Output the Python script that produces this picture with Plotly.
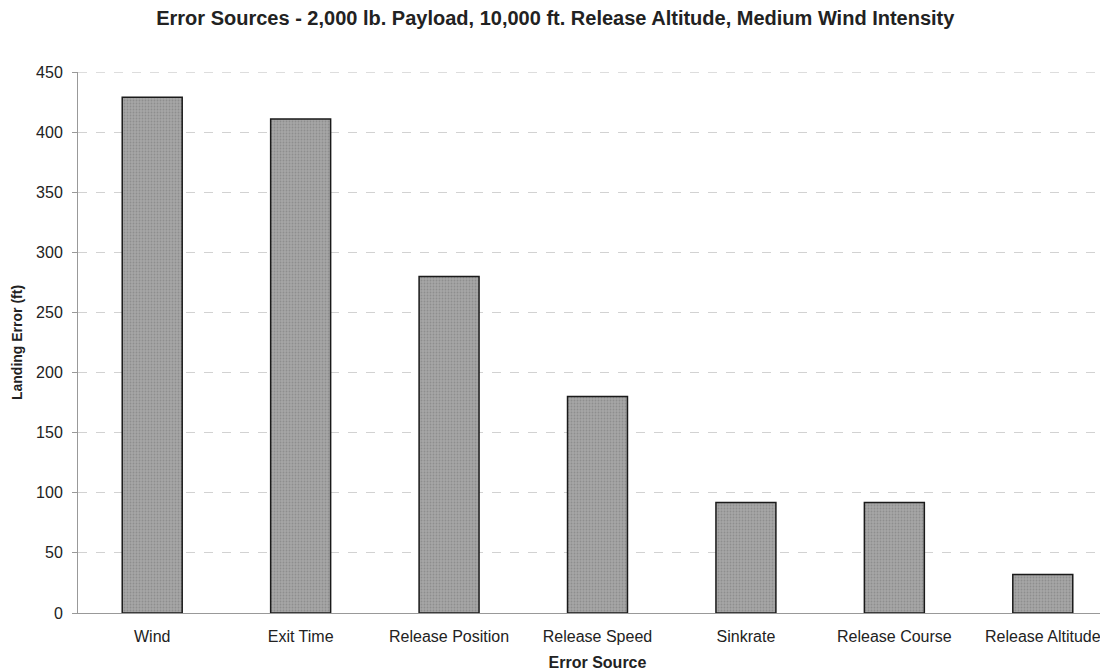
import plotly.graph_objects as go

categories = ["Wind", "Exit Time", "Release Position", "Release Speed", "Sinkrate", "Release Course", "Release Altitude"]
landing_error = [429, 411, 280, 180, 92, 92, 32]
y_ticks = [0, 50, 100, 150, 200, 250, 300, 350, 400, 450]

fig = go.Figure()
fig.add_trace(go.Bar(
    x=categories, y=landing_error,
    marker=dict(color="#9c9c9c", line=dict(color="#1a1a1a", width=1.5),
                pattern=dict(shape=".", fgcolor="#767676", bgcolor="#a6a6a6", size=3, solidity=0.3)),
    width=0.404,
))
font = "Liberation Sans, Arial, sans-serif"
fig.update_layout(
    width=1109, height=671,
    margin=dict(l=70, r=0, t=64, b=66, autoexpand=False),
    paper_bgcolor="white", plot_bgcolor="white",
    showlegend=False,
    font=dict(family=font, color="#222", size=16),
    title=dict(text="<b>Error Sources - 2,000 lb. Payload, 10,000 ft. Release Altitude, Medium Wind Intensity</b>",
               x=0.4935, xanchor="center", yref="container", y=0.985, yanchor="middle",
               font=dict(size=20, family=font, color="#222")),
    xaxis=dict(title=dict(text="<b>Error Source</b>", font=dict(size=16), standoff=12),
               showline=True, linecolor="#999", linewidth=1, ticks="", tickfont=dict(size=16),
               ticklabelstandoff=9, automargin=False),
    yaxis=dict(title=dict(text="<b>Landing Error (ft)</b>", font=dict(size=14), standoff=10),
               range=[0, 450], tickvals=y_ticks, showline=True, linecolor="#999", linewidth=1,
               gridcolor="#d2d2d2", griddash="dash", gridwidth=1, ticks="outside", ticklen=5,
               tickcolor="#999", tickfont=dict(size=16), zeroline=False, ticklabelstandoff=6,
               automargin=False),
)
fig.add_shape(type="line", xref="paper", yref="y", x0=0, x1=1, y0=450, y1=450,
              line=dict(color="#bbb", width=1, dash="dash"))
fig.write_html("out.html")
